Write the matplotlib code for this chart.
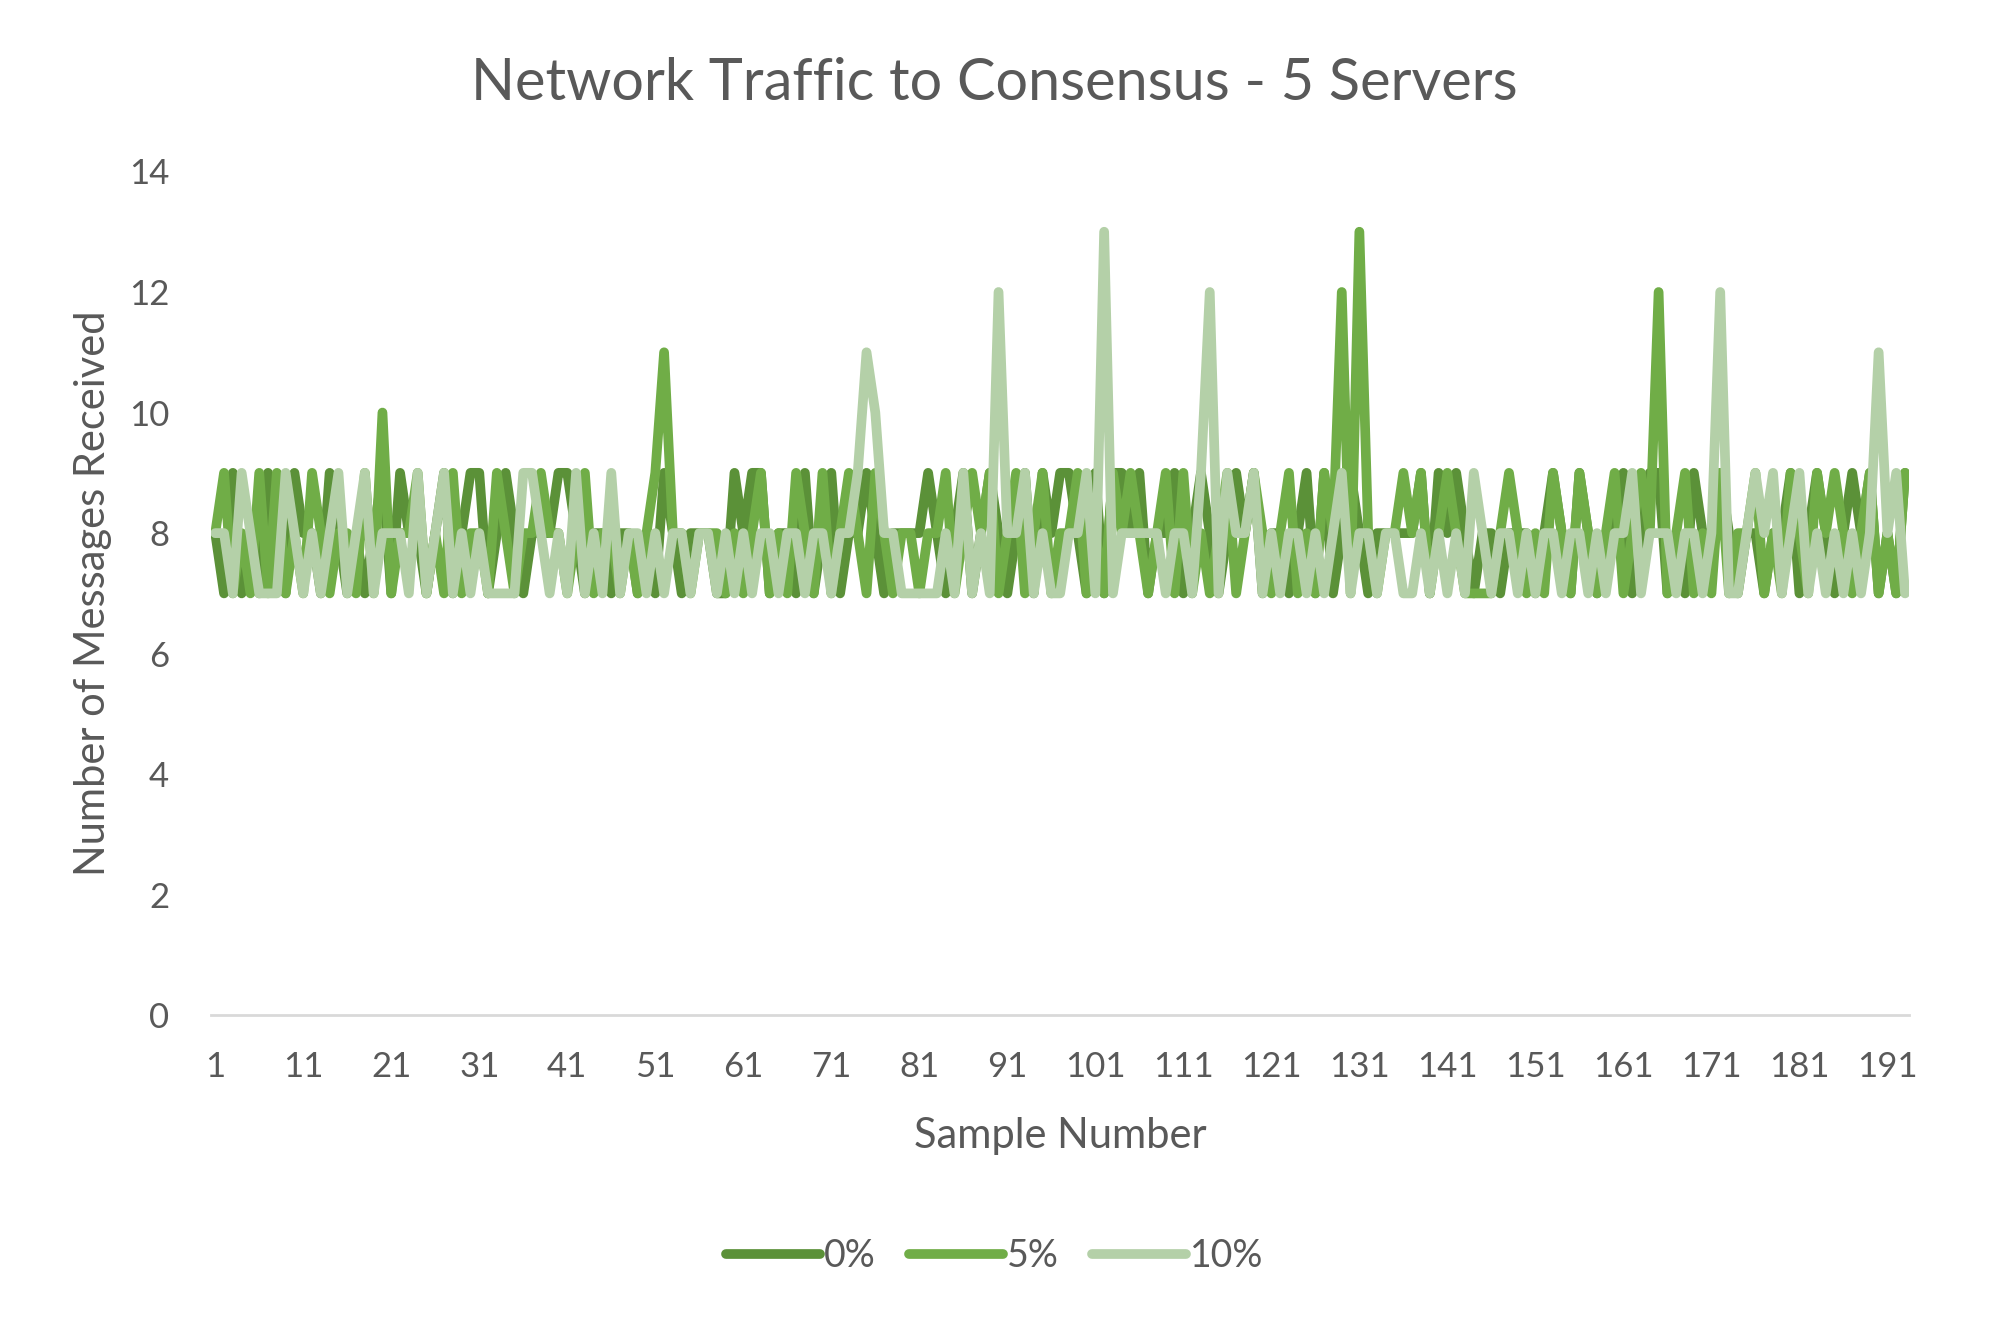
import matplotlib
matplotlib.use("Agg")
import matplotlib.pyplot as plt

# samples 1..193, one row of ten per line
zero_pct = [
    8, 7, 9, 7, 8, 7, 9, 8, 7, 9,
    8, 8, 7, 9, 8, 7, 8, 7, 8, 9,
    7, 9, 8, 8, 7, 8, 9, 7, 8, 9,
    9, 7, 8, 9, 8, 7, 8, 8, 8, 9,
    9, 8, 7, 8, 8, 7, 8, 8, 7, 8,
    7, 9, 8, 7, 8, 8, 8, 7, 7, 9,
    8, 9, 9, 7, 8, 8, 7, 9, 7, 8,
    9, 7, 8, 8, 9, 8, 7, 8, 8, 8,
    8, 9, 8, 7, 8, 9, 7, 8, 9, 8,
    7, 8, 9, 7, 9, 8, 9, 9, 8, 7,
    9, 7, 9, 9, 8, 9, 7, 8, 8, 9,
    7, 8, 9, 8, 7, 8, 9, 8, 9, 7,
    8, 8, 7, 8, 9, 7, 9, 7, 8, 9,
    8, 7, 8, 8, 8, 8, 8, 9, 7, 9,
    8, 9, 8, 7, 8, 8, 7, 8, 8, 8,
    7, 8, 9, 8, 7, 9, 8, 7, 8, 8,
    9, 7, 8, 9, 9, 7, 8, 7, 9, 8,
    8, 9, 8, 7, 8, 8, 7, 8, 8, 9,
    7, 8, 9, 8, 7, 8, 9, 8, 9, 7,
    8, 7, 9,
]
five_pct = [
    8, 9, 7, 8, 7, 9, 7, 9, 7, 8,
    7, 9, 8, 7, 8, 8, 7, 9, 7, 10,
    7, 8, 8, 9, 7, 8, 7, 9, 7, 8,
    8, 7, 9, 8, 7, 8, 8, 9, 8, 8,
    7, 8, 9, 7, 8, 8, 7, 8, 7, 8,
    9, 11, 8, 8, 7, 8, 8, 8, 7, 8,
    7, 8, 9, 7, 8, 7, 9, 8, 7, 9,
    7, 8, 9, 8, 7, 9, 8, 7, 8, 8,
    7, 8, 8, 9, 7, 8, 9, 8, 9, 7,
    8, 9, 7, 8, 9, 7, 8, 8, 9, 7,
    8, 7, 9, 8, 9, 8, 7, 8, 9, 7,
    9, 7, 8, 7, 8, 9, 7, 8, 9, 8,
    7, 8, 9, 7, 8, 7, 9, 8, 12, 7,
    13, 8, 7, 8, 8, 9, 8, 9, 7, 8,
    9, 8, 7, 7, 7, 7, 8, 9, 8, 7,
    8, 7, 9, 8, 7, 9, 8, 7, 8, 9,
    7, 8, 9, 8, 12, 7, 8, 9, 7, 8,
    7, 9, 7, 8, 8, 9, 7, 8, 7, 9,
    8, 7, 9, 8, 9, 8, 7, 8, 9, 7,
    8, 7, 9,
]
ten_pct = [
    8, 8, 7, 9, 8, 7, 7, 7, 9, 8,
    7, 8, 7, 8, 9, 7, 8, 9, 7, 8,
    8, 8, 7, 9, 7, 8, 9, 7, 8, 7,
    8, 7, 7, 7, 7, 9, 9, 8, 7, 8,
    7, 9, 7, 8, 7, 9, 7, 8, 8, 7,
    8, 7, 8, 8, 7, 8, 8, 7, 8, 7,
    8, 7, 8, 8, 7, 8, 8, 7, 8, 8,
    7, 8, 8, 9, 11, 10, 8, 8, 7, 7,
    7, 7, 7, 8, 7, 9, 7, 8, 7, 12,
    8, 8, 9, 7, 8, 7, 7, 8, 8, 9,
    7, 13, 7, 8, 8, 8, 8, 8, 7, 8,
    8, 7, 9, 12, 7, 9, 8, 8, 9, 7,
    8, 7, 8, 8, 7, 8, 7, 8, 9, 7,
    8, 8, 7, 8, 8, 7, 7, 8, 7, 8,
    7, 8, 7, 9, 8, 7, 8, 8, 7, 8,
    7, 8, 8, 7, 8, 8, 7, 8, 7, 8,
    8, 9, 7, 8, 8, 8, 7, 8, 8, 7,
    8, 12, 7, 7, 8, 9, 8, 9, 7, 8,
    9, 7, 8, 7, 8, 7, 8, 7, 8, 11,
    8, 9, 7,
]
series_names = ["0%", "5%", "10%"]
series_colors = ["#5B9138", "#70AD47", "#B4D0A8"]
x_ticks = list(range(1, 194, 10))
y_ticks = list(range(0, 15, 2))

text_color = "#595959"
plt.rcParams["font.family"] = ["Lato", "DejaVu Sans"]

fig = plt.figure(figsize=(19.89, 13.29), dpi=100)
ax = fig.add_axes([0.106, 0.236, 0.854, 0.635])

samples = list(range(1, len(zero_pct) + 1))
for vals, name, col in zip([zero_pct, five_pct, ten_pct], series_names, series_colors):
    ax.plot(samples, vals, color=col, lw=7, label=name,
            solid_capstyle="round", solid_joinstyle="round")

ax.set_xlim(0.5, len(samples) + 0.5)
ax.set_ylim(0, 14)
ax.set_xticks(x_ticks)
ax.set_yticks(y_ticks)
ax.tick_params(axis="both", length=0, labelsize=25, colors=text_color)
ax.tick_params(axis="x", pad=26)
ax.tick_params(axis="y", pad=30)

for side in ["top", "right", "left"]:
    ax.spines[side].set_visible(False)
ax.spines["bottom"].set_color("#D9D9D9")
ax.spines["bottom"].set_linewidth(2)

ax.set_xlabel("Sample Number", fontsize=30, color=text_color, labelpad=24)
ax.set_ylabel("Number of Messages Received", fontsize=30, color=text_color, labelpad=12)
fig.suptitle("Network Traffic to Consensus - 5 Servers", fontsize=41.5,
             color=text_color, y=0.957)

leg = fig.legend(loc="center", bbox_to_anchor=(0.5, 0.055), ncol=3, frameon=False,
                 fontsize=27, handlelength=2.5, handletextpad=0.1, columnspacing=0.9)
for line in leg.get_lines():
    line.set_linewidth(7)
for t in leg.get_texts():
    t.set_color(text_color)

fig.savefig("out.png", dpi=100)
